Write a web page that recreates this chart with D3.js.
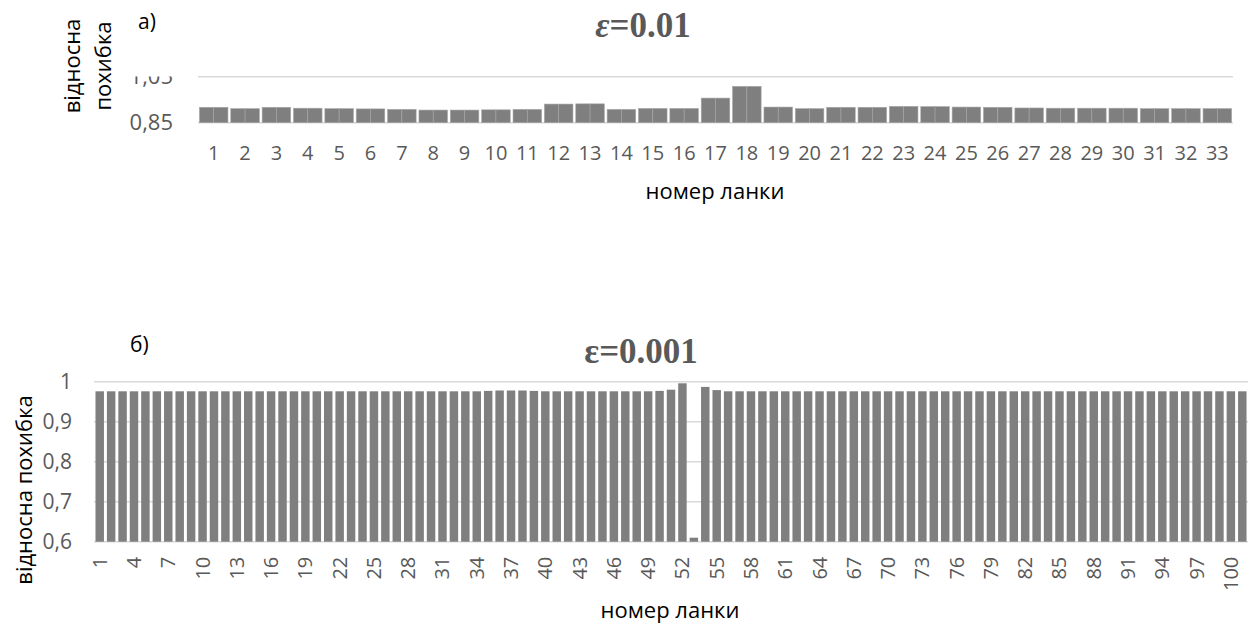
<!DOCTYPE html>
<html>
<head>
<meta charset="utf-8">
<script src="https://cdn.jsdelivr.net/npm/d3@7"></script>
<style>
  body { margin: 0; background: #fff; }
  svg { display: block; font-family: "Open Sans", sans-serif; }
</style>
</head>
<body>
<svg id="chart" width="1253" height="635"></svg>
<script>
// a) eps = 0.01, 33 links
const linksA = d3.range(1, 34);
const errA = [0.917, 0.911, 0.917, 0.913, 0.911, 0.910, 0.908, 0.905, 0.905, 0.906,
              0.908, 0.931, 0.932, 0.908, 0.912, 0.912, 0.957, 1.008, 0.918, 0.911,
              0.917, 0.917, 0.921, 0.920, 0.918, 0.917, 0.914, 0.913, 0.913, 0.913,
              0.911, 0.911, 0.911];
const ticksA = [0.85, 1.05];

// б) eps = 0.001, 101 links
const linksB = d3.range(1, 102);
const errB = [
  0.976, 0.976, 0.976, 0.976, 0.976, 0.976, 0.976, 0.976, 0.976, 0.976,
  0.976, 0.976, 0.976, 0.976, 0.976, 0.976, 0.976, 0.976, 0.976, 0.976,
  0.976, 0.976, 0.976, 0.976, 0.976, 0.976, 0.976, 0.976, 0.976, 0.976,
  0.976, 0.976, 0.976, 0.976, 0.977, 0.978, 0.978, 0.978, 0.977, 0.976,
  0.976, 0.976, 0.976, 0.976, 0.976, 0.976, 0.976, 0.976, 0.976, 0.977,
  0.980, 0.996, 0.610, 0.987, 0.979, 0.976, 0.976, 0.976, 0.976, 0.976,
  0.976, 0.976, 0.976, 0.976, 0.976, 0.976, 0.976, 0.976, 0.976, 0.976,
  0.976, 0.976, 0.976, 0.976, 0.976, 0.976, 0.976, 0.976, 0.976, 0.976,
  0.976, 0.976, 0.976, 0.976, 0.976, 0.976, 0.976, 0.976, 0.976, 0.976,
  0.976, 0.976, 0.976, 0.976, 0.976, 0.976, 0.976, 0.976, 0.976, 0.976,
  0.976];
const ticksB = [0.6, 0.7, 0.8, 0.9, 1];
const labelsB = linksB.filter(d => (d - 1) % 3 === 0 && d <= 100);

const barColor = "#7f7f7f";
const gridColor = "#d9d9d9";
const tickColor = "#595959";
const fmt = d => String(d).replace(".", ",");

const svg = d3.select("#chart");

// ---------- chart a) ----------
const xA = d3.scaleBand().domain(linksA).range([198, 1233]).paddingInner(0.09).paddingOuter(0.045);
const subA = d3.scaleBand().domain(["l", "r"]).range([0, xA.bandwidth()]);
const yA = d3.scaleLinear().domain([0.85, 1.05]).range([122.7, 76.7]);

const gA = svg.append("g");

gA.append("g").selectAll("line")
  .data(ticksA)
  .enter().append("line")
  .attr("x1", 198).attr("x2", 1233)
  .attr("y1", d => yA(d)).attr("y2", d => yA(d))
  .attr("stroke", gridColor).attr("stroke-width", 1.5);

const barsA = gA.append("g");
linksA.forEach((k, i) => {
  barsA.selectAll(null)
    .data(subA.domain())
    .enter().append("rect")
    .attr("x", s => xA(k) + subA(s))
    .attr("width", subA.bandwidth())
    .attr("y", yA(errA[i]))
    .attr("height", yA(0.85) - yA(errA[i]))
    .attr("fill", barColor)
    .attr("stroke", "#a6a6a6").attr("stroke-width", 0.6);
});

// y tick labels, the top one is cut off as in the source figure
svg.append("clipPath").attr("id", "clipA")
  .append("rect").attr("x", 0).attr("y", 76.5).attr("width", 198).attr("height", 80);
gA.append("g")
  .attr("clip-path", "url(#clipA)")
  .append("g")
  .attr("transform", "translate(198,0)")
  .call(d3.axisLeft(yA).tickValues(ticksA).tickSize(0).tickPadding(25).tickFormat(fmt))
  .call(g => g.select(".domain").remove())
  .selectAll("text")
  .attr("font-size", 22).attr("fill", tickColor).attr("font-family", "Open Sans");

gA.append("g")
  .attr("transform", "translate(0,122.7)")
  .call(d3.axisBottom(xA).tickSize(0).tickPadding(23))
  .call(g => g.select(".domain").remove())
  .selectAll("text")
  .attr("font-size", 20).attr("fill", tickColor).attr("font-family", "Open Sans");

svg.append("text")
  .attr("x", 643).attr("y", 37)
  .attr("text-anchor", "middle")
  .attr("font-family", "Liberation Serif").attr("font-weight", "bold")
  .attr("font-size", 35).attr("fill", tickColor)
  .call(t => {
    t.append("tspan").attr("font-style", "italic").text("ε");
    t.append("tspan").text("=0.01");
  });

svg.append("text").attr("x", 138).attr("y", 29)
  .attr("font-size", 21).attr("fill", "#000").text("а)");

const yTitleA = svg.append("text")
  .attr("transform", "translate(72,66) rotate(-90)")
  .attr("text-anchor", "middle").attr("font-size", 22).attr("fill", "#000");
yTitleA.append("tspan").attr("x", 0).attr("dy", "0.35em").text("відносна");
yTitleA.append("tspan").attr("x", 0).attr("dy", "1.4em").text("похибка");

svg.append("text").attr("x", 715).attr("y", 199)
  .attr("text-anchor", "middle").attr("font-size", 22).attr("fill", "#000")
  .text("номер ланки");

// ---------- chart б) ----------
const xB = d3.scaleBand().domain(linksB).range([94, 1248]).paddingInner(0.26).paddingOuter(0.13);
const yB = d3.scaleLinear().domain([0.6, 1]).range([541.7, 381.7]);

const gB = svg.append("g");

gB.append("g").selectAll("line")
  .data(ticksB)
  .enter().append("line")
  .attr("x1", 94).attr("x2", 1248)
  .attr("y1", d => yB(d)).attr("y2", d => yB(d))
  .attr("stroke", gridColor).attr("stroke-width", 1.5);

gB.append("g").selectAll("rect")
  .data(errB)
  .enter().append("rect")
  .attr("x", (d, i) => xB(linksB[i]))
  .attr("width", xB.bandwidth())
  .attr("y", d => yB(d))
  .attr("height", d => yB(0.6) - yB(d))
  .attr("fill", barColor);

gB.append("g")
  .attr("transform", "translate(94,0)")
  .call(d3.axisLeft(yB).tickValues(ticksB).tickSize(0).tickPadding(22).tickFormat(fmt))
  .call(g => g.select(".domain").remove())
  .selectAll("text")
  .attr("font-size", 21).attr("fill", tickColor).attr("font-family", "Open Sans");

gB.append("g")
  .attr("transform", "translate(0,541.7)")
  .call(d3.axisBottom(xB).tickValues(labelsB).tickSize(0).tickPadding(0))
  .call(g => g.select(".domain").remove())
  .selectAll("text")
  .attr("transform", "translate(0,15) rotate(-90)")
  .attr("x", 0).attr("y", 0).attr("dy", "0.35em")
  .attr("text-anchor", "end")
  .attr("font-size", 20).attr("fill", tickColor).attr("font-family", "Open Sans");

svg.append("text")
  .attr("x", 641).attr("y", 363)
  .attr("text-anchor", "middle")
  .attr("font-family", "Liberation Serif").attr("font-weight", "bold")
  .attr("font-size", 35).attr("fill", tickColor)
  .text("ε=0.001");

svg.append("text").attr("x", 130).attr("y", 352)
  .attr("font-size", 21).attr("fill", "#000").text("б)");

svg.append("text")
  .attr("transform", "translate(24,490) rotate(-90)")
  .attr("text-anchor", "middle").attr("dy", "0.35em")
  .attr("font-size", 22).attr("fill", "#000")
  .text("відносна похибка");

svg.append("text").attr("x", 670).attr("y", 618)
  .attr("text-anchor", "middle").attr("font-size", 22).attr("fill", "#000")
  .text("номер ланки");
</script>
</body>
</html>
